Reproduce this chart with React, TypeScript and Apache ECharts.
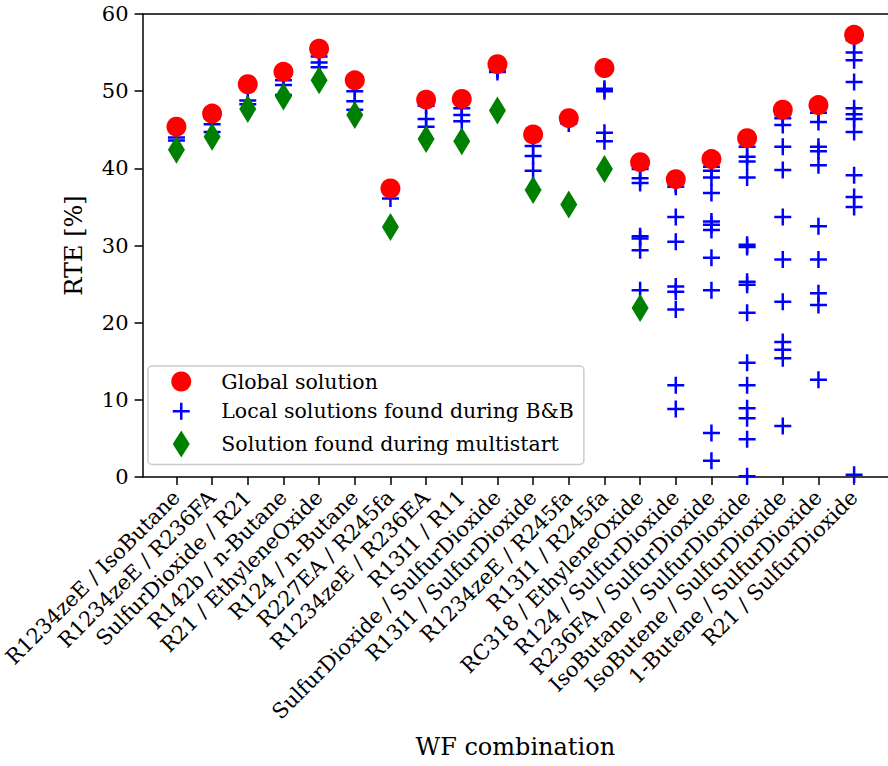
import React, { useEffect, useRef } from "react";
import * as echarts from "echarts";

const categories = [
  "R1234zeE / IsoButane",
  "R1234zeE / R236FA",
  "SulfurDioxide / R21",
  "R142b / n-Butane",
  "R21 / EthyleneOxide",
  "R124 / n-Butane",
  "R227EA / R245fa",
  "R1234zeE / R236EA",
  "R13I1 / R11",
  "SulfurDioxide / SulfurDioxide",
  "R13I1 / SulfurDioxide",
  "R1234zeE / R245fa",
  "R13I1 / R245fa",
  "RC318 / EthyleneOxide",
  "R124 / SulfurDioxide",
  "R236FA / SulfurDioxide",
  "IsoButane / SulfurDioxide",
  "IsoButene / SulfurDioxide",
  "1-Butene / SulfurDioxide",
  "R21 / SulfurDioxide",
];

const globalSolution = [
  45.4, 47.1, 50.9, 52.5, 55.5, 51.4, 37.4, 48.9, 49.0, 53.5, 44.4, 46.5, 53.0,
  40.8, 38.6, 41.2, 43.9, 47.6, 48.2, 57.3,
];

const multistartSolution = [
  42.4, 44.1, 47.7, 49.3, 51.4, 46.9, 32.4, 43.8, 43.5, 47.5, 37.2, 35.3, 39.9,
  21.9,
];

const localSolutions = [
  [44.0, 43.6],
  [46.5, 45.7, 44.7],
  [48.8, 48.3],
  [51.4, 50.8, 49.5],
  [54.5, 53.7, 53.1],
  [50.0, 48.7, 47.6],
  [36.1],
  [48.1, 46.4, 45.4],
  [47.8, 46.9, 46.1],
  [52.8, 52.5],
  [42.9, 41.6, 39.7],
  [45.8],
  [50.3, 50.0, 44.6, 43.5],
  [39.9, 38.7, 38.1, 31.2, 30.9, 29.4, 24.2],
  [38.0, 37.6, 33.7, 30.5, 24.7, 24.0, 21.7, 11.9, 8.8],
  [40.2, 39.7, 38.8, 36.8, 33.1, 32.7, 32.0, 28.4, 24.2, 5.7, 2.1],
  [42.8, 41.5, 40.9, 38.8, 30.1, 29.8, 25.3, 24.9, 21.3, 14.8, 11.9, 8.9, 7.6, 4.9, 0.1],
  [46.9, 46.5, 45.6, 42.8, 39.8, 33.7, 28.2, 22.7, 17.5, 16.5, 15.4, 6.6],
  [47.2, 46.0, 42.8, 42.2, 40.4, 32.5, 28.2, 23.8, 22.3, 12.6],
  [56.6, 55.0, 54.0, 51.2, 47.8, 47.0, 46.4, 44.7, 39.1, 36.3, 35.0, 0.3],
];

const FONT = "DejaVu Serif";
const PLUS = "path://M0,8H16M8,0V16";
const PLUS_ICON = "path://M0,0L0,0M20,20L20,20M1.5,10H18.5M10,1.5V18.5";
const DIAMOND_ICON = "path://M0,0L0,0M20,27L20,27M10,0L18.5,13.5L10,27L1.5,13.5Z";

export default function App() {
  const ref = useRef<HTMLDivElement>(null);
  useEffect(() => {
    const chart = echarts.init(ref.current!, null, { renderer: "svg" });
    const idx = categories.map((_, i) => i);
    const localData = localSolutions.flatMap((vals, i) => vals.map((v) => [i, v]));
    const globalData = globalSolution.map((v, i) => [i, v]);
    const msData = multistartSolution.map((v, i) => [i, v]);
    const axisLineStyle = { color: "#000", width: 1.5 };
    chart.setOption({
      animation: false,
      backgroundColor: "#fff",
      grid: { left: 137, right: -1, top: 14, bottom: 289, containLabel: false },
      xAxis: [
        {
          type: "value",
          min: -0.95,
          max: 19.95,
          position: "bottom",
          axisLine: { show: true, onZero: false, lineStyle: axisLineStyle },
          axisTick: { show: true, customValues: idx, length: 8, lineStyle: axisLineStyle },
          axisLabel: {
            customValues: idx,
            rotate: 45,
            margin: 17,
            formatter: (v: number) => categories[Math.round(v)],
            color: "#000",
            fontFamily: FONT,
            fontSize: 21,
          },
          splitLine: { show: false },
          name: "WF combination",
          nameLocation: "middle",
          nameGap: 258,
          nameTextStyle: { fontFamily: FONT, fontSize: 24, color: "#000" },
        },
        {
          type: "value",
          min: -0.95,
          max: 19.95,
          position: "top",
          axisLine: { show: true, onZero: false, lineStyle: axisLineStyle },
          axisTick: { show: false },
          axisLabel: { show: false },
          splitLine: { show: false },
        },
      ],
      yAxis: {
        type: "value",
        min: 0,
        max: 60,
        interval: 10,
        axisLine: { show: true, onZero: false, lineStyle: axisLineStyle },
        axisTick: { show: true, length: 8, lineStyle: axisLineStyle },
        axisLabel: { color: "#000", fontFamily: FONT, fontSize: 21, margin: 14 },
        splitLine: { show: false },
        name: "RTE [%]",
        nameLocation: "middle",
        nameGap: 57,
        nameTextStyle: { fontFamily: FONT, fontSize: 24, color: "#000" },
      },
      legend: {
        orient: "vertical",
        left: 148,
        top: 366,
        padding: [5, 10, 7, 22],
        itemWidth: 20,
        itemHeight: 27,
        itemGap: 8,
        selectedMode: false,
        symbolKeepAspect: true,
        borderColor: "#cccccc",
        borderWidth: 1.5,
        borderRadius: 4,
        backgroundColor: "rgba(255,255,255,0.8)",
        textStyle: { fontFamily: FONT, fontSize: 20.5, color: "#000", padding: [0, 0, 0, 25] },
        data: [
          { name: "Global solution", icon: "circle", itemStyle: { color: "#ff0000" } },
          {
            name: "Local solutions found during B&B",
            icon: PLUS_ICON,
            itemStyle: { color: "transparent", borderColor: "#0000ff", borderWidth: 2.5 },
          },
          { name: "Solution found during multistart", icon: DIAMOND_ICON, itemStyle: { color: "#008000" } },
        ],
      },
      series: [
        {
          name: "Global solution",
          type: "scatter",
          data: globalData,
          symbol: "circle",
          symbolSize: 20,
          itemStyle: { color: "#ff0000", opacity: 1 },
          z: 4,
        },
        {
          name: "Local solutions found during B&B",
          type: "scatter",
          data: localData,
          symbol: PLUS,
          symbolSize: 17,
          itemStyle: { color: "transparent", borderColor: "#0000ff", borderWidth: 2.5, opacity: 1 },
          z: 2,
        },
        {
          name: "Solution found during multistart",
          type: "scatter",
          data: msData,
          symbol: "diamond",
          symbolSize: [17, 28],
          itemStyle: { color: "#008000", opacity: 1 },
          z: 3,
        },
      ],
    });
    return () => chart.dispose();
  }, []);
  return (
    <div
      ref={ref}
      style={{ position: "fixed", left: 0, top: 0, width: 888, height: 766, background: "#fff" }}
    />
  );
}
